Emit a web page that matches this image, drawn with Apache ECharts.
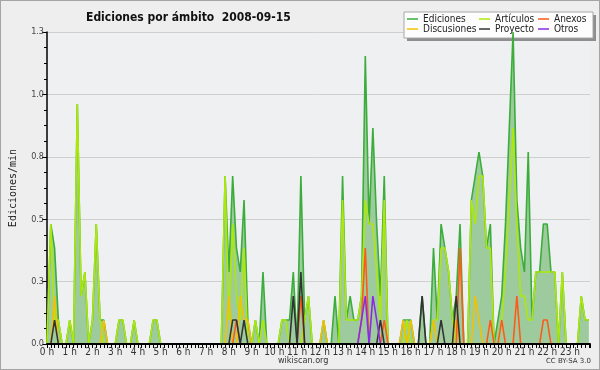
<!DOCTYPE html>
<html><head><meta charset="utf-8">
<script src="https://cdn.jsdelivr.net/npm/echarts@6.0.0/dist/echarts.min.js"></script>
<style>
html,body{margin:0;padding:0;background:#eeeeee}
#wrap{position:relative;width:600px;height:370px}
#c{position:absolute;left:0;top:0;width:600px;height:370px}
#frame{position:absolute;left:0;top:0;width:600px;height:370px;box-sizing:border-box;border:1px solid #a4a4a4;pointer-events:none}
</style>
</head><body><div id="wrap"><div id="c"></div><div id="frame"></div></div>
<script>
// 10-minute bins, 144 per day; values in edits per minute
const hourLabels = ['0 h','1 h','2 h','3 h','4 h','5 h','6 h','7 h','8 h','9 h','10 h','11 h','12 h','13 h','14 h','15 h','16 h','17 h','18 h','19 h','20 h','21 h','22 h','23 h'];
const yTickLabels = ['0.0','0.3','0.5','0.8','1.0','1.3'];

const ediciones = [
 0,0.5,0.4,0.1,0,0,0.1,0,1.0,0.2,0.3,0,
 0.1,0.5,0.1,0.1,0,0,0,0.1,0.1,0,0,0.1,
 0,0,0,0,0.1,0.1,0,0,0,0,0,0,
 0,0,0,0,0,0,0,0,0,0,0,0.7,
 0.3,0.7,0.4,0.3,0.6,0.1,0,0.1,0,0.3,0,0,
 0,0,0.1,0.1,0.1,0.3,0,0.7,0.1,0.2,0,0,
 0,0.1,0,0,0.2,0,0.7,0.1,0.2,0.1,0.1,0.2,
 1.2,0.5,0.9,0.5,0.2,0.7,0,0,0,0,0.1,0.1,
 0.1,0,0,0.2,0,0,0.4,0.1,0.5,0.4,0.3,0.1,
 0.2,0.5,0,0,0.6,0.7,0.8,0.7,0.4,0.5,0,0.1,
 0.2,0.5,0.9,1.3,0.6,0.4,0.3,0.8,0.1,0.3,0.3,0.5,
 0.5,0.3,0.3,0,0.3,0,0,0,0,0.2,0.1,0.1
];
const articulos = [
 0,0.5,0.1,0.1,0,0,0.1,0,1.0,0.2,0.3,0,
 0.1,0.5,0.1,0,0,0,0,0.1,0.1,0,0,0.1,
 0,0,0,0,0.1,0.1,0,0,0,0,0,0,
 0,0,0,0,0,0,0,0,0,0,0,0.7,
 0.1,0.5,0.2,0.1,0.4,0,0,0.1,0,0.1,0,0,
 0,0,0.1,0.1,0,0,0,0,0.1,0.2,0,0,
 0,0,0,0,0,0,0.6,0.1,0.1,0.1,0.1,0.2,
 0.6,0.5,0.5,0.3,0.1,0.6,0,0,0,0,0,0.1,
 0,0,0,0,0,0,0.1,0.1,0.4,0.4,0.3,0.1,
 0,0,0,0,0.6,0.5,0.7,0.7,0.4,0.4,0,0,
 0.1,0.3,0.6,0.9,0.5,0.2,0.2,0.1,0.1,0.3,0.3,0.3,
 0.3,0.3,0.3,0,0.3,0,0,0,0,0.2,0.1,0.1
];
const discusiones = [
 0,0,0.2,0,0,0,0,0,0,0,0,0,
 0,0,0,0.1,0,0,0,0,0,0,0,0,
 0,0,0,0,0,0,0,0,0,0,0,0,
 0,0,0,0,0,0,0,0,0,0,0,0,
 0.2,0,0,0.2,0.1,0.1,0,0,0,0,0,0,
 0,0,0,0,0,0,0,0,0,0,0,0,
 0,0.1,0,0,0,0,0,0,0,0,0,0,
 0,0,0,0,0,0,0,0,0,0,0.1,0,
 0.1,0,0,0,0,0,0.1,0,0,0,0,0,
 0.1,0,0,0,0,0.2,0.1,0,0,0,0,0,
 0,0,0,0,0,0,0,0,0,0,0,0,
 0,0,0,0,0,0,0,0,0,0,0,0
];
const proyecto = [
 0,0,0.1,0,0,0,0,0,0,0,0,0,
 0,0,0,0,0,0,0,0,0,0,0,0,
 0,0,0,0,0,0,0,0,0,0,0,0,
 0,0,0,0,0,0,0,0,0,0,0,0,
 0,0.1,0.1,0,0.1,0,0,0,0,0,0,0,
 0,0,0,0,0,0.2,0,0.3,0,0,0,0,
 0,0,0,0,0,0,0,0,0,0,0,0,
 0,0,0,0,0.1,0,0,0,0,0,0,0,
 0,0,0,0.2,0,0,0,0,0.1,0,0,0,
 0.2,0,0,0,0,0,0,0,0,0,0,0,
 0,0,0,0,0,0,0,0,0,0,0,0,
 0,0,0,0,0,0,0,0,0,0,0,0
];
const anexos = [
 0,0,0,0,0,0,0,0,0,0,0,0,
 0,0,0,0,0,0,0,0,0,0,0,0,
 0,0,0,0,0,0,0,0,0,0,0,0,
 0,0,0,0,0,0,0,0,0,0,0,0,
 0,0,0.1,0,0,0,0,0,0,0,0,0,
 0,0,0,0,0,0,0,0.2,0,0,0,0,
 0,0,0,0,0,0,0,0,0,0,0,0.1,
 0.4,0,0,0,0,0.1,0,0,0,0,0,0,
 0,0,0,0,0,0,0,0,0,0,0,0,
 0,0.4,0,0,0,0,0,0,0,0.1,0,0,
 0.1,0,0,0,0.2,0,0,0,0,0,0,0.1,
 0.1,0,0,0,0,0,0,0,0,0,0,0
];
const otros = [
 0,0,0,0,0,0,0,0,0,0,0,0,
 0,0,0,0,0,0,0,0,0,0,0,0,
 0,0,0,0,0,0,0,0,0,0,0,0,
 0,0,0,0,0,0,0,0,0,0,0,0,
 0,0,0,0,0,0,0,0,0,0,0,0,
 0,0,0,0,0,0,0,0,0,0,0,0,
 0,0,0,0,0,0,0,0,0,0,0,0.1,
 0.2,0,0.2,0.1,0,0,0,0,0,0,0,0,
 0,0,0,0,0,0,0,0,0,0,0,0,
 0,0,0,0,0,0,0,0,0,0,0,0,
 0,0,0,0,0,0,0,0,0,0,0,0,
 0,0,0,0,0,0,0,0,0,0,0,0
];

const FONT = '"DejaVu Sans Condensed", "DejaVu Sans"';
const pts = arr => arr.map((v, i) => [i, v]);
const lineSeries = (name, data, color, extra) => Object.assign({
  type: 'line', name, data: pts(data), showSymbol: false, symbol: 'none',
  lineStyle: { color, width: 1.6 }, itemStyle: { color }, color,
  animation: false, clip: true
}, extra || {});

const legendBase = {
  orient: 'vertical', top: 14, itemGap: 0, itemWidth: 11, itemHeight: 1.5,
  icon: 'rect', padding: 0, selectedMode: false, z: 20,
  textStyle: { fontFamily: FONT, fontSize: 10, lineHeight: 10, color: '#222', padding: [0,0,0,0] }
};

const chart = echarts.init(document.getElementById('c'), null, { renderer: 'canvas' });
chart.setOption({
  backgroundColor: '#eeeeee',
  animation: false,
  title: {
    text: 'Ediciones por ámbito  2008-09-15', left: 81, top: 7,
    textStyle: { fontFamily: FONT, fontSize: 12, fontWeight: 'bold', color: '#111' }
  },
  legend: [
    Object.assign({}, legendBase, { left: 407, data: ['Ediciones', 'Discusiones'] }),
    Object.assign({}, legendBase, { left: 479, data: ['Artículos', 'Proyecto'] }),
    Object.assign({}, legendBase, { left: 538, data: ['Anexos', 'Otros'] })
  ],
  graphic: [
    { type: 'rect', z: 3, shape: { x: 407, y: 15, width: 189, height: 26 }, style: { fill: '#8e8e8e' } },
    { type: 'rect', z: 3, shape: { x: 404, y: 12, width: 189, height: 26 }, style: { fill: '#fdfdfd', stroke: '#a8a8a8', lineWidth: 1 } },
    { type: 'text', left: 278, top: 356, style: { text: 'wikiscan.org', font: '9px "DejaVu Sans Condensed", "DejaVu Sans"', fill: '#333' } },
    { type: 'text', right: 9, top: 358, style: { text: 'CC BY-SA 3.0', font: '7px "DejaVu Sans"', fill: '#333' } }
  ],
  grid: { left: 47, right: 10, top: 32, bottom: 26, show: true, backgroundColor: '#eef0f2', borderWidth: 0 },
  xAxis: {
    type: 'value', min: 0, max: 143.3, interval: 6, z: 10,
    axisLine: { show: true, lineStyle: { color: '#000', width: 2 } },
    axisTick: { show: true, inside: false, length: 4, lineStyle: { color: '#000', width: 1 } },
    minorTick: { show: true, splitNumber: 6, length: 4, lineStyle: { color: '#000', width: 1 } },
    splitLine: { show: false },
    axisLabel: {
      fontFamily: FONT, fontSize: 10, color: '#333', margin: 3,
      formatter: v => (Math.abs(v % 6) < 1e-6 && v / 6 < hourLabels.length) ? hourLabels[Math.round(v / 6)] : ''
    }
  },
  yAxis: {
    type: 'value', min: 0, max: 1.3, interval: 0.26,
    name: 'Ediciones/min', nameLocation: 'middle', nameGap: 29, nameRotate: 90,
    nameTextStyle: { fontFamily: 'DejaVu Sans Mono', fontSize: 10, color: '#222' },
    axisLine: { show: true, lineStyle: { color: '#000', width: 1.5 } },
    axisTick: { show: true, inside: false, length: 5, lineStyle: { color: '#000' } },
    minorTick: { show: true, splitNumber: 4, length: 3, lineStyle: { color: '#000' } },
    splitLine: { show: true, lineStyle: { color: '#cfcfcf', width: 1 } },
    axisLabel: {
      fontFamily: FONT, fontSize: 9, color: '#444', margin: 3,
      formatter: v => yTickLabels[Math.round(v / 0.26)] || ''
    }
  },
  series: [
    lineSeries('Ediciones', ediciones, '#3aad3a', { areaStyle: { color: '#9ecb9e', opacity: 1 } }),
    lineSeries('Artículos', articulos, '#aee80a'),
    lineSeries('Discusiones', discusiones, '#f2c200'),
    lineSeries('Anexos', anexos, '#ff5a18'),
    lineSeries('Proyecto', proyecto, '#333333'),
    lineSeries('Otros', otros, '#8a2be2')
  ]
});
</script></body></html>
